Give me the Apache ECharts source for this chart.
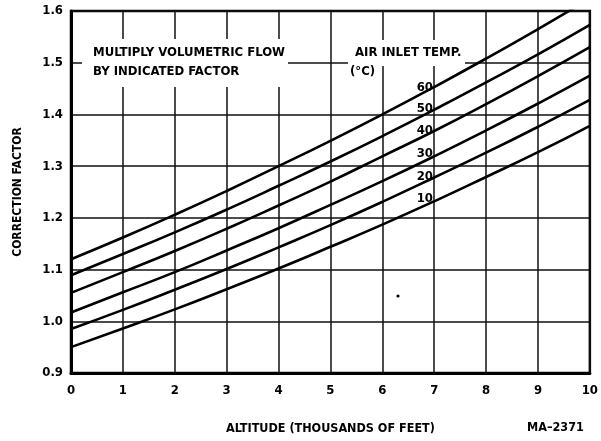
<!DOCTYPE html>
<html>
<head>
<meta charset="utf-8">
<script src="https://cdn.jsdelivr.net/npm/echarts@6/dist/echarts.min.js"></script>
<style>
  html, body { margin: 0; padding: 0; background: #fff; }
  #main { width: 601px; height: 441px; }
</style>
</head>
<body>
<div id="main"></div>
<script>
// altitude, thousands of feet
var altitude = [0, 1, 2, 3, 4, 5, 6, 7, 8, 9, 10]
// correction factor per air inlet temp
var temp60 = [1.120, 1.162, 1.206, 1.252, 1.300, 1.349, 1.400, 1.453, 1.508, 1.565, 1.624]
var temp50 = [1.089, 1.130, 1.172, 1.216, 1.262, 1.309, 1.358, 1.409, 1.462, 1.516, 1.573]
var temp40 = [1.055, 1.095, 1.136, 1.179, 1.224, 1.270, 1.319, 1.368, 1.420, 1.474, 1.530]
var temp30 = [1.017, 1.056, 1.095, 1.137, 1.180, 1.225, 1.271, 1.319, 1.369, 1.421, 1.475]
var temp20 = [0.985, 1.022, 1.061, 1.101, 1.143, 1.186, 1.231, 1.278, 1.326, 1.376, 1.428]
var temp10 = [0.950, 0.986, 1.023, 1.062, 1.102, 1.144, 1.187, 1.232, 1.279, 1.327, 1.378]
var tempNames = ['60', '50', '40', '30', '20', '10']

var FONT = '"Liberation Sans Narrow", "DejaVu Sans Condensed", "Roboto Condensed", sans-serif'

function pairs(ys) {
  return altitude.map(function (x, i) { return [x, ys[i]] })
}

var chart = echarts.init(document.getElementById('main'), null, { renderer: 'canvas' })

var seriesData = [temp60, temp50, temp40, temp30, temp20, temp10]
var series = seriesData.map(function (ys, i) {
  return {
    name: tempNames[i],
    type: 'line',
    smooth: true,
    symbol: 'none',
    clip: true,
    lineStyle: { color: '#000', width: 2.6 },
    data: pairs(ys),
    z: 3
  }
})

// label position for each curve (pixels, right-aligned next to x = 7 line)
var labelY = [88, 109, 131, 154, 177, 199]

chart.setOption({
  animation: false,
  grid: {
    left: 71, right: 8, top: 11, bottom: 68,
    show: true,
    borderColor: '#000',
    borderWidth: 2.5
  },
  xAxis: {
    type: 'value',
    min: 0, max: 10, interval: 1,
    axisLine: { show: true, lineStyle: { color: '#000', width: 3 } },
    axisTick: { show: false },
    splitLine: { show: true, lineStyle: { color: '#111', width: 1.5 } },
    axisLabel: { color: '#000', fontFamily: FONT, fontWeight: 'bold', fontSize: 13, margin: 11 },
    name: 'ALTITUDE (THOUSANDS OF FEET)',
    nameLocation: 'middle',
    nameGap: 49,
    nameTextStyle: { color: '#000', fontFamily: FONT, fontWeight: 'bold', fontSize: 12.5 }
  },
  yAxis: {
    type: 'value',
    min: 0.9, max: 1.6, interval: 0.1,
    axisLine: { show: true, lineStyle: { color: '#000', width: 3 } },
    axisTick: { show: false },
    splitLine: { show: true, lineStyle: { color: '#111', width: 1.5 } },
    axisLabel: {
      color: '#000', fontFamily: FONT, fontWeight: 'bold', fontSize: 13, margin: 8,
      formatter: function (v) { return v.toFixed(1) }
    },
    name: 'CORRECTION FACTOR',
    nameLocation: 'middle',
    nameGap: 47,
    nameRotate: 90,
    nameTextStyle: { color: '#000', fontFamily: FONT, fontWeight: 'bold', fontSize: 12 }
  },
  series: series,
  graphic: [
    // white boxes behind the notes, they hide the grid there
    { type: 'rect', z: 50, shape: { x: 82, y: 39, width: 206, height: 48 }, style: { fill: '#fff' } },
    { type: 'rect', z: 50, shape: { x: 348, y: 40, width: 117, height: 26 }, style: { fill: '#fff' } },
    { type: 'text', z: 60, left: 93, top: 46,
      style: { text: 'MULTIPLY VOLUMETRIC FLOW', fill: '#000', font: 'bold 13px ' + FONT } },
    { type: 'text', z: 60, left: 93, top: 65,
      style: { text: 'BY INDICATED FACTOR', fill: '#000', font: 'bold 13px ' + FONT } },
    { type: 'text', z: 60, left: 355, top: 46,
      style: { text: 'AIR INLET TEMP.', fill: '#000', font: 'bold 13px ' + FONT } },
    { type: 'text', z: 60, left: 350, top: 65,
      style: { text: '(°C)', fill: '#000', font: 'bold 13px ' + FONT } },
    // stray speck on the original
    { type: 'circle', z: 60, shape: { cx: 398, cy: 296, r: 1.6 }, style: { fill: '#000' } },
    { type: 'text', z: 60, left: 527, top: 421,
      style: { text: 'MA–2371', fill: '#000', font: 'bold 12.5px ' + FONT } }
  ].concat(tempNames.map(function (t, i) {
    return {
      type: 'text', z: 60, x: 433, y: labelY[i],
      style: { text: t, fill: '#000', font: 'bold 13px ' + FONT, align: 'right', verticalAlign: 'middle' }
    }
  }))
})
</script>
</body>
</html>
